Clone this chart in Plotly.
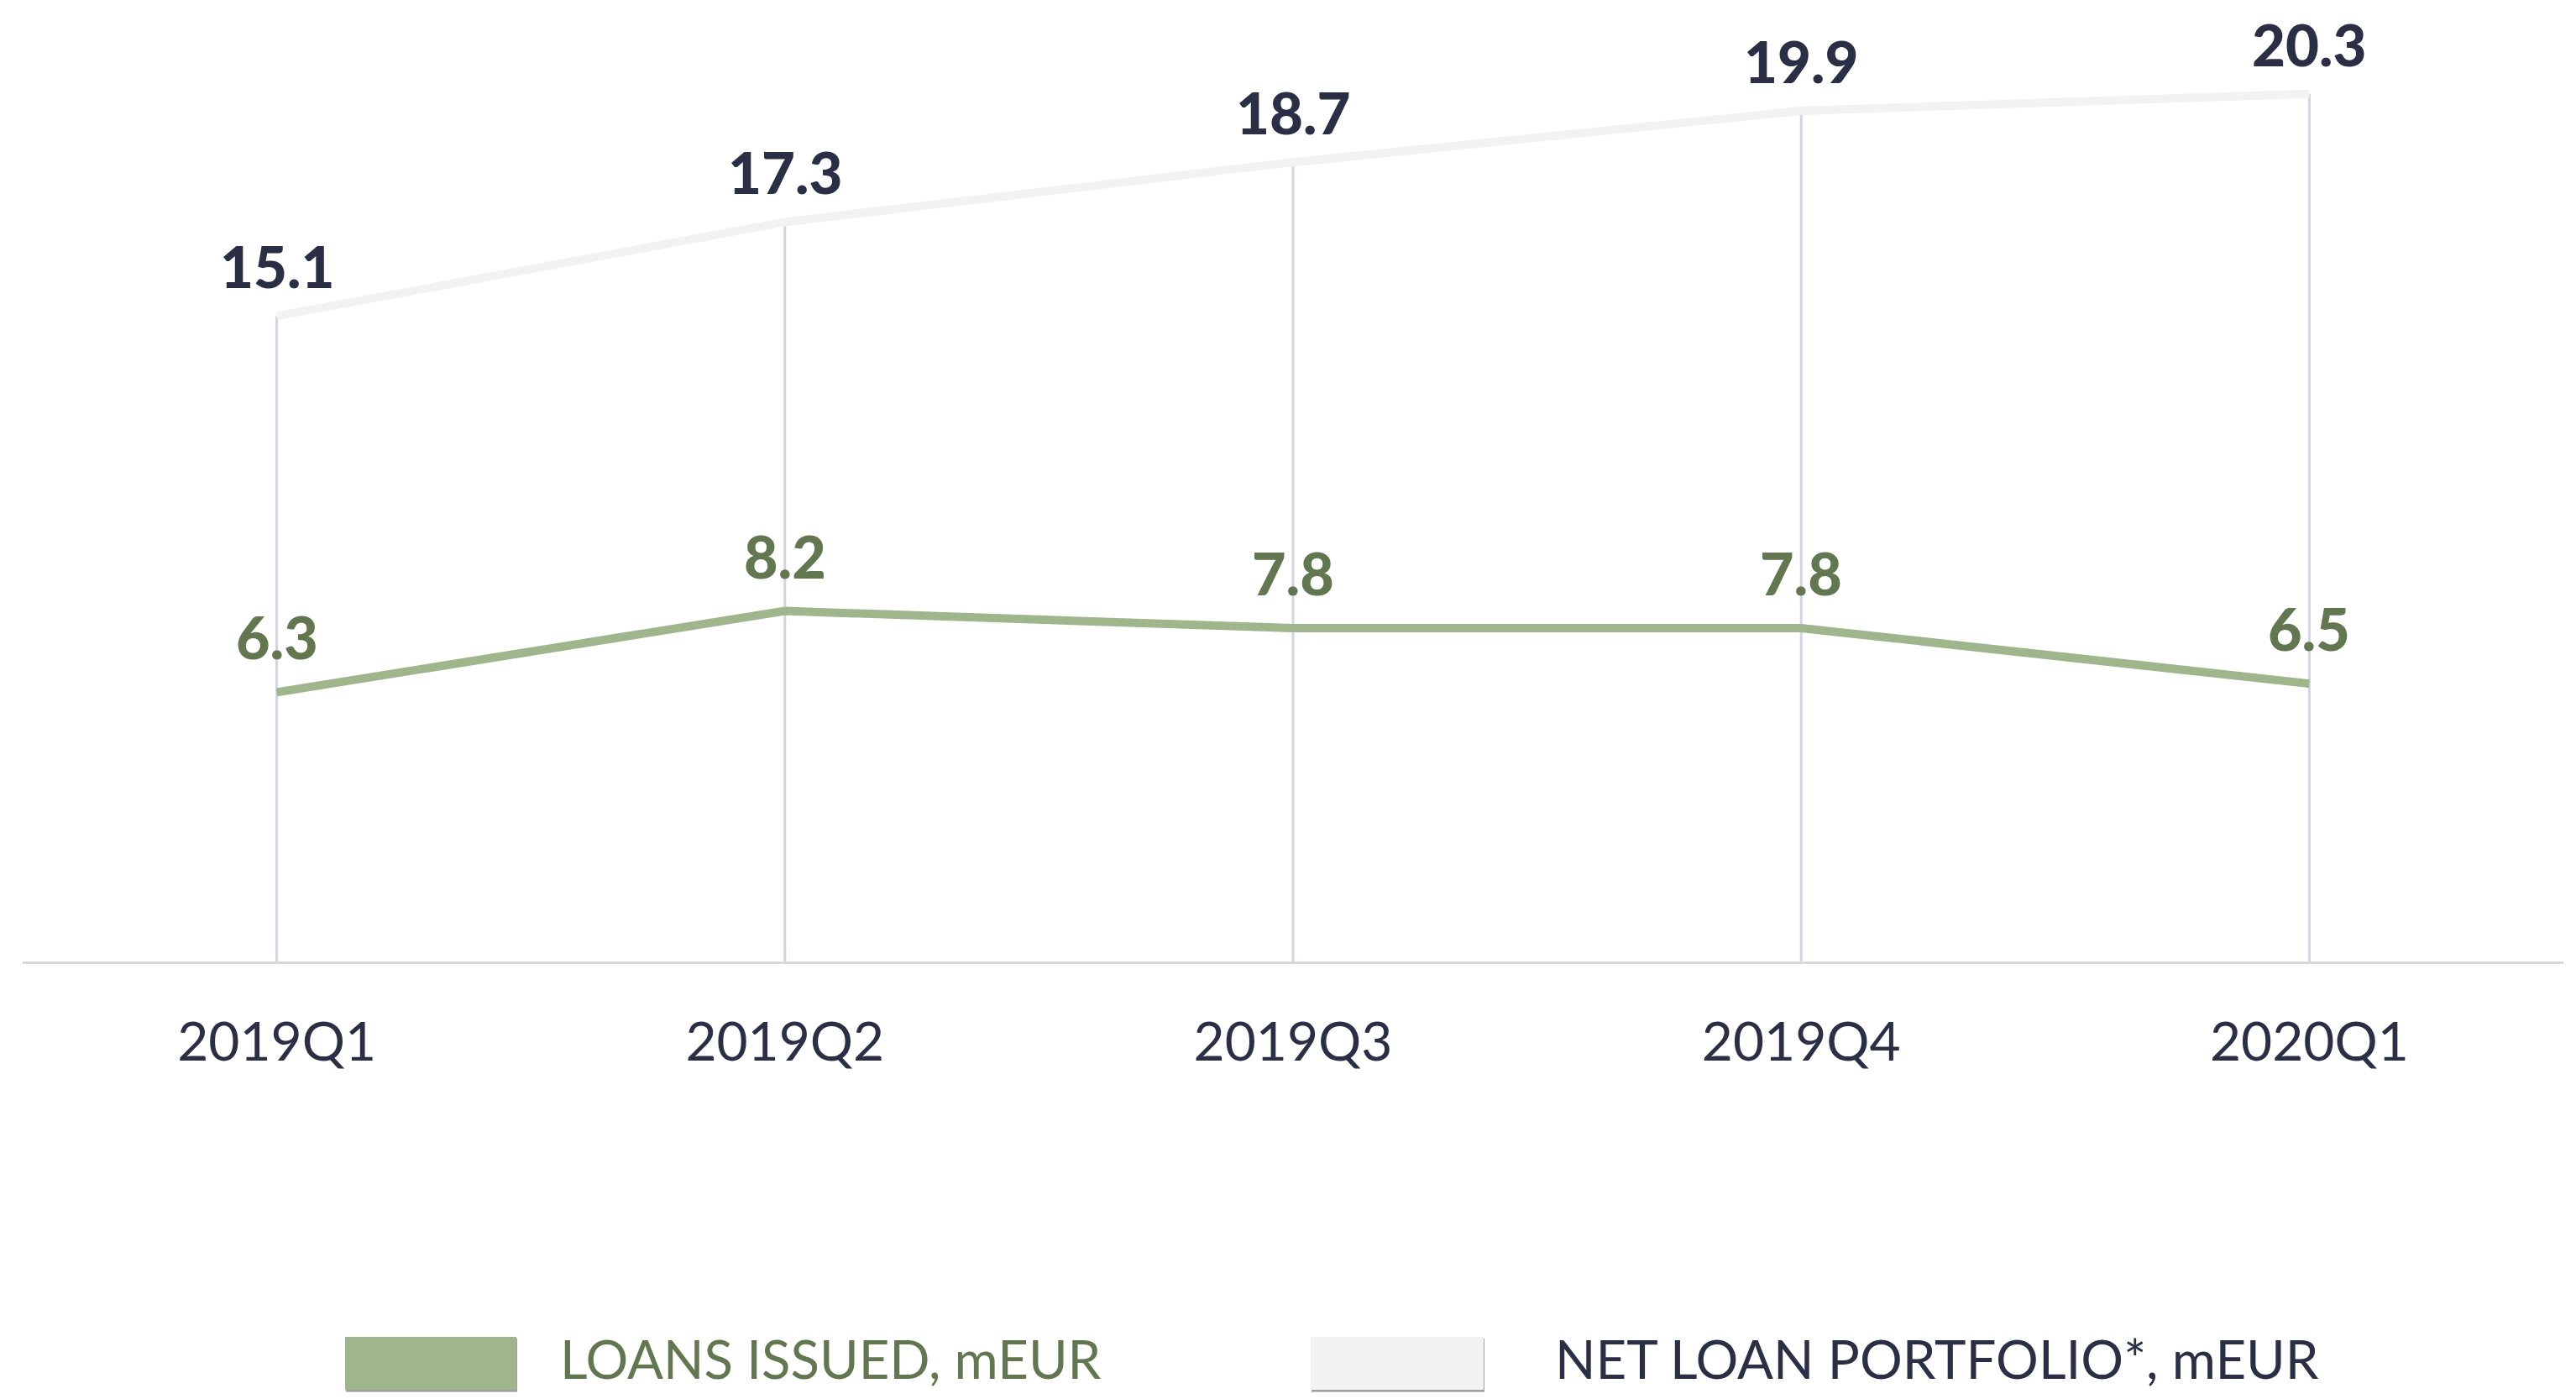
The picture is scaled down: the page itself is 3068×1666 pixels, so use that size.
import plotly.graph_objects as go

# ---- data ----
quarters = ["2019Q1", "2019Q2", "2019Q3", "2019Q4", "2020Q1"]
loans_issued = [6.3, 8.2, 7.8, 7.8, 6.5]
net_portfolio = [15.1, 17.3, 18.7, 19.9, 20.3]
series_names = ["LOANS ISSUED, mEUR", "NET LOAN PORTFOLIO*, mEUR"]

# ---- style ----
OFF = 8  # page body margin
W, H = 3068 - 2 * OFF, 1666 - 2 * OFF
AXIS_Y = 1145 - OFF           # axis line, figure pixels
PLOT_L, PLOT_R = 27 - OFF, 3053 - OFF
ML, MR, MT, MB = PLOT_L, W - PLOT_R, 0, H - AXIS_Y
GREEN_LINE = "#9fb58c"
GREEN_TEXT = "#627650"
GREY_LINE = "#f2f2f2"
DARK_TEXT = "#2a2f45"
DROP = "#d0d4e4"
FONT = "Lato"

PW = W - ML - MR
PH = H - MT - MB


def px_x(x):
    return (x - OFF - ML) / PW


def px_y(y):
    return (H - MB - (y - OFF)) / PH


fig = go.Figure()

# drop lines from the top series to the axis
dx, dy = [], []
for q, a, b in zip(quarters, loans_issued, net_portfolio):
    dx += [q, q, None]
    dy += [0, max(a, b), None]
fig.add_trace(go.Scatter(x=dx, y=dy, mode="lines", line=dict(color=DROP, width=3),
                         hoverinfo="skip", showlegend=False))

fig.add_trace(go.Scatter(x=quarters, y=net_portfolio, mode="lines", name=series_names[1],
                         line=dict(color=GREY_LINE, width=10), showlegend=False))
fig.add_trace(go.Scatter(x=quarters, y=loans_issued, mode="lines", name=series_names[0],
                         line=dict(color=GREEN_LINE, width=10), showlegend=False))

annotations = []
for q, v in zip(quarters, net_portfolio):
    annotations.append(dict(x=q, y=v, text=f"{v:.1f}", showarrow=False, yanchor="bottom",
                            yshift=16, font=dict(family=FONT, size=69, color=DARK_TEXT, weight=900)))
for q, v in zip(quarters, loans_issued):
    annotations.append(dict(x=q, y=v, text=f"{v:.1f}", showarrow=False, yanchor="bottom",
                            yshift=22, font=dict(family=FONT, size=70, color=GREEN_TEXT, weight=900)))

# custom legend
shapes = []
legend_items = [
    (series_names[0], GREEN_LINE, GREEN_TEXT, 411, 615, 665),
    (series_names[1], GREY_LINE, DARK_TEXT, 1561, 1767, 1850),
]
y0, y1 = 1592, 1655
for name, fill, tcol, sx0, sx1, tx in legend_items:
    # soft shadow
    for k, op in ((6, 0.10), (4, 0.14), (2, 0.18)):
        shapes.append(dict(type="rect", xref="paper", yref="paper",
                           x0=px_x(sx0 + 1), x1=px_x(sx1 + 1), y0=px_y(y0 + 2), y1=px_y(y1 + k),
                           fillcolor=f"rgba(0,0,0,{op})", line=dict(width=0), layer="above"))
    shapes.append(dict(type="rect", xref="paper", yref="paper",
                       x0=px_x(sx0), x1=px_x(sx1), y0=px_y(y0), y1=px_y(y1),
                       fillcolor=fill, line=dict(width=0), layer="above"))
    annotations.append(dict(xref="paper", yref="paper", x=px_x(tx), y=px_y(1617),
                            xanchor="left", yanchor="middle", text=name, showarrow=False,
                            font=dict(family=FONT, size=63.5, color=tcol)))

fig.update_layout(
    width=W, height=H,
    margin=dict(l=ML, r=MR, t=MT, b=MB),
    paper_bgcolor="white", plot_bgcolor="white",
    showlegend=False,
    annotations=annotations,
    shapes=shapes,
    xaxis=dict(type="category", range=[-0.5, 4.5], showgrid=False, zeroline=False,
               showline=True, linecolor="#d9d9d9", linewidth=3, ticks="",
               ticklabelstandoff=38,
               tickfont=dict(family=FONT, size=64, color=DARK_TEXT)),
    yaxis=dict(range=[0, PH / 50.9], visible=False, showgrid=False, zeroline=False),
)

fig.write_html("out.html")
